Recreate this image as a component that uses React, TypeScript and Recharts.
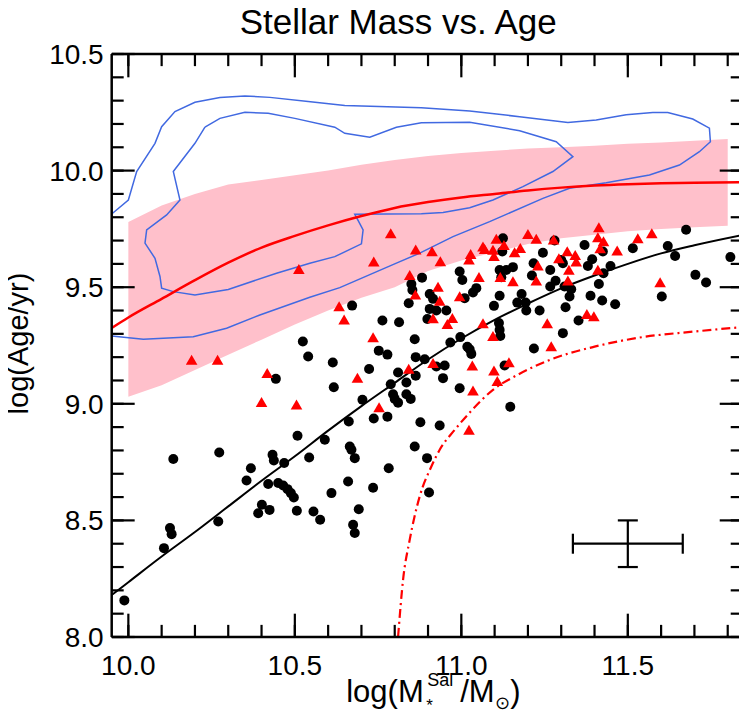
import React from 'react';
import { ComposedChart, XAxis, YAxis, Scatter, Line, Area, ErrorBar, ReferenceLine } from 'recharts';

const FONT = '"Liberation Sans", Arial, Helvetica, sans-serif';

const xDomain = [9.95, 11.845];
const yDomain = [8.0, 10.5];

const xMajorTicks = [10.0, 10.5, 11.0, 11.5];
const xMinorTicks = [10.0, 10.1, 10.2, 10.3, 10.4, 10.5, 10.6, 10.7, 10.8, 10.9, 11.0, 11.1, 11.2, 11.3, 11.4, 11.5, 11.6, 11.7, 11.8];
const yMajorTicks = [8.0, 8.5, 9.0, 9.5, 10.0, 10.5];
const yMinorTicks = [8.0, 8.1, 8.2, 8.3, 8.4, 8.5, 8.6, 8.7, 8.8, 8.9, 9.0, 9.1, 9.2, 9.3, 9.4, 9.5, 9.6, 9.7, 9.8, 9.9, 10.0, 10.1, 10.2, 10.3, 10.4, 10.5];

// galaxies (black dots)
const blackDots = [
  [9.988, 8.157], [10.107, 8.381], [10.125, 8.467], [10.130, 8.441], [10.135, 8.763], [10.273, 8.791], [10.270, 8.495],
  [10.368, 8.724], [10.355, 8.671], [10.420, 8.656], [10.433, 8.781], [10.437, 8.757], [10.468, 8.746], [10.508, 8.863],
  [10.443, 9.107], [10.524, 9.267], [10.540, 9.203], [10.614, 9.177], [10.617, 9.071], [10.590, 8.846], [10.543, 8.770],
  [10.450, 8.660], [10.465, 8.650], [10.478, 8.634], [10.488, 8.617], [10.497, 8.598], [10.401, 8.567], [10.390, 8.531],
  [10.424, 8.545], [10.506, 8.541], [10.556, 8.538], [10.576, 8.503], [10.610, 8.617], [10.660, 8.667], [10.665, 8.817],
  [10.670, 8.803], [10.680, 8.767], [10.662, 8.924], [10.675, 8.481], [10.680, 8.446],
  [10.735, 8.640], [10.782, 8.724], [10.897, 8.767], [10.903, 8.620], [10.692, 8.548],
  [10.672, 9.421], [10.763, 9.357], [10.813, 9.350], [10.842, 9.431], [10.850, 9.514], [10.853, 9.488], [10.882, 9.541],
  [10.860, 9.277], [10.752, 9.228], [10.778, 9.211], [10.723, 9.149], [10.810, 9.134], [10.863, 9.200], [10.863, 9.120],
  [10.890, 9.191], [10.788, 9.084], [10.835, 9.091], [10.795, 9.041], [10.800, 9.021], [10.810, 9.005], [10.835, 9.041],
  [10.848, 9.021], [10.703, 9.017], [10.737, 8.937], [10.778, 8.945], [10.877, 8.921], [10.935, 8.907], [10.860, 8.817],
  [10.925, 9.160], [10.950, 9.164], [10.945, 9.110], [10.995, 9.067], [11.147, 8.987], [11.130, 9.164], [11.218, 9.237],
  [10.967, 9.263], [10.997, 9.286], [11.018, 9.245], [11.025, 9.234], [11.030, 9.214], [11.113, 9.346], [11.115, 9.317],
  [11.117, 9.291], [11.098, 9.420], [11.115, 9.463], [11.181, 9.471], [11.168, 9.434], [11.193, 9.434], [11.195, 9.400],
  [10.905, 9.471], [10.915, 9.450], [10.905, 9.407], [10.925, 9.400], [10.955, 9.400], [10.898, 9.364], [11.010, 9.453],
  [11.035, 9.477], [11.045, 9.496], [10.995, 9.567], [11.003, 9.531], [11.125, 9.710], [11.123, 9.653], [11.115, 9.574],
  [11.135, 9.574], [11.155, 9.586], [11.120, 9.543], [11.217, 9.603], [11.212, 9.550],
  [11.675, 9.746], [11.620, 9.677], [11.642, 9.634], [11.808, 9.629], [11.703, 9.553], [11.735, 9.520], [11.602, 9.460],
  [11.515, 9.667], [11.370, 9.681], [11.280, 9.700], [11.245, 9.648], [11.267, 9.574], [11.283, 9.528], [11.267, 9.503],
  [11.305, 9.603], [11.300, 9.617], [11.393, 9.620], [11.380, 9.591], [11.425, 9.653], [11.448, 9.591], [11.427, 9.560],
  [11.413, 9.514], [11.330, 9.491], [11.310, 9.503], [11.325, 9.460], [11.388, 9.463], [11.423, 9.443], [11.462, 9.427],
  [11.235, 9.400], [11.313, 9.414], [11.352, 9.357], [11.305, 9.303],
];

// red triangles
const redTriangles = [
  [10.190, 9.185], [10.268, 9.185], [10.417, 9.128], [10.400, 9.003], [10.505, 8.993], [10.688, 9.107], [10.512, 9.574],
  [10.788, 9.727], [10.737, 9.606], [10.863, 9.657], [10.912, 9.650], [10.937, 9.607], [10.845, 9.548], [10.930, 9.498],
  [10.862, 9.464], [10.935, 9.438], [10.915, 9.363], [10.958, 9.338], [10.973, 9.364], [10.995, 9.457], [11.053, 9.539],
  [11.028, 9.638], [11.023, 9.614], [11.065, 9.670], [11.070, 9.660], [11.095, 9.656], [11.098, 9.629], [11.105, 9.703],
  [11.128, 9.677], [11.160, 9.646], [11.177, 9.664], [11.200, 9.724], [11.225, 9.703], [11.117, 9.539], [11.155, 9.521],
  [11.225, 9.524], [10.633, 9.414], [10.648, 9.357], [10.735, 9.281], [11.065, 9.341], [11.095, 9.286], [10.842, 9.146],
  [10.915, 9.171], [11.033, 9.160], [11.098, 9.138], [11.108, 9.093], [11.143, 9.174], [11.035, 9.053], [10.753, 8.981],
  [11.023, 8.884],
  [11.277, 9.700], [11.413, 9.753], [11.410, 9.710], [11.427, 9.693], [11.417, 9.663], [11.530, 9.706], [11.572, 9.727],
  [11.468, 9.653], [11.318, 9.650], [11.342, 9.634], [11.345, 9.606], [11.293, 9.620], [11.230, 9.589], [11.323, 9.571],
  [11.410, 9.571], [11.320, 9.524], [11.597, 9.517], [11.258, 9.341], [11.377, 9.381], [11.398, 9.371], [11.270, 9.243],
];

// model curves
const modelX = [9.95, 10.0, 10.1, 10.2, 10.3, 10.4, 10.5, 10.6, 10.7, 10.8, 10.9, 11.0, 11.1, 11.2, 11.3, 11.4, 11.5, 11.6, 11.7, 11.845];
const redModel = [9.325, 9.37, 9.45, 9.53, 9.605, 9.67, 9.72, 9.765, 9.805, 9.84, 9.865, 9.885, 9.9, 9.915, 9.927, 9.936, 9.942, 9.946, 9.948, 9.95];
const blackModel = [8.18, 8.235, 8.345, 8.45, 8.56, 8.67, 8.775, 8.885, 8.99, 9.09, 9.19, 9.28, 9.36, 9.43, 9.495, 9.55, 9.6, 9.645, 9.68, 9.724];

const dashX = [10.81, 10.825, 10.845, 10.875, 10.91, 10.935, 10.98, 11.03, 11.095, 11.17, 11.265, 11.4, 11.535, 11.7, 11.845];
const dashY = [8.0, 8.245, 8.417, 8.603, 8.731, 8.803, 8.888, 8.97, 9.06, 9.125, 9.188, 9.245, 9.284, 9.31, 9.329];

// pink band
const bandX = [10.0, 10.1, 10.2, 10.3, 10.4, 10.5, 10.6, 10.7, 10.8, 10.9, 11.0, 11.1, 11.2, 11.3, 11.4, 11.5, 11.6, 11.7, 11.8];
const bandLow = [9.03, 9.08, 9.145, 9.21, 9.275, 9.34, 9.4, 9.455, 9.5, 9.57, 9.615, 9.65, 9.685, 9.71, 9.725, 9.74, 9.75, 9.757, 9.763];
const bandHigh = [9.78, 9.85, 9.9, 9.94, 9.96, 9.98, 10.0, 10.025, 10.045, 10.063, 10.075, 10.085, 10.095, 10.1, 10.107, 10.115, 10.12, 10.128, 10.135];

// blue contours
const outerContour = [
  [9.95, 9.814], [10.0, 9.874], [10.025, 9.996], [10.08, 10.117], [10.1, 10.188], [10.14, 10.253], [10.2, 10.293],
  [10.275, 10.313], [10.35, 10.32], [10.425, 10.314], [10.54, 10.296], [10.65, 10.279], [10.88, 10.27], [11.025, 10.256],
  [11.175, 10.231], [11.32, 10.206], [11.405, 10.217], [11.495, 10.239], [11.575, 10.249], [11.62, 10.249], [11.695, 10.221],
  [11.745, 10.182], [11.748, 10.124], [11.715, 10.081], [11.655, 10.024], [11.565, 9.981], [11.435, 9.948], [11.325, 9.924],
  [11.245, 9.881], [11.085, 9.781], [10.975, 9.717], [10.875, 9.646], [10.805, 9.603], [10.635, 9.498], [10.545, 9.457],
  [10.395, 9.381], [10.295, 9.324], [10.195, 9.288], [10.045, 9.277], [9.95, 9.291],
];
const innerContour = [
  [10.23, 10.186], [10.275, 10.224], [10.35, 10.25], [10.42, 10.246], [10.5, 10.224], [10.62, 10.186], [10.65, 10.16],
  [10.725, 10.143], [10.805, 10.186], [10.88, 10.205], [11.025, 10.207], [11.175, 10.171], [11.285, 10.124], [11.335, 10.06],
  [11.275, 9.996], [11.185, 9.931], [11.095, 9.874], [11.025, 9.841], [10.945, 9.82], [10.88, 9.815], [10.68, 9.813],
  [10.705, 9.746], [10.7, 9.686], [10.62, 9.631], [10.545, 9.603], [10.445, 9.56], [10.3, 9.49], [10.2, 9.467],
  [10.135, 9.481], [10.1, 9.496], [10.095, 9.546], [10.08, 9.624], [10.05, 9.689], [10.055, 9.746], [10.115, 9.81],
  [10.155, 9.874], [10.135, 9.996], [10.2, 10.117], [10.23, 10.186],
];

// typical uncertainty
const errX = [11.5];
const errY = [8.4];
const errDx = [0.165];
const errDy = [0.1];

// inward tick lengths, in axis units (about 23px / 12px)
const MAJ_Y = 0.1;
const MIN_Y = 0.052;
const MAJ_X = 0.069;
const MIN_X = 0.036;

const toPoints = (pts: number[][]) => pts.map(([x, y]) => ({ x, y }));

const Dot = (props: any) => <circle cx={props.cx} cy={props.cy} r={5} fill="#000" />;
const Tri = (props: any) => {
  const { cx, cy } = props;
  return <polygon points={`${cx},${cy - 6} ${cx - 5.8},${cy + 4} ${cx + 5.8},${cy + 4}`} fill="#FF0000" />;
};
const NoShape = () => <g />;

const tickStyle = { fill: '#000', fontSize: 28, fontFamily: FONT };
const axisLineStyle = { stroke: '#000', strokeWidth: 2.5 };

const TitleLabel = (props: any) => {
  const vb = props.viewBox;
  return (
    <text x={vb.x + vb.width / 2 - 29} y={vb.y - 20} textAnchor="middle" fontSize={35} fontFamily={FONT} fill="#000">
      Stellar Mass vs. Age
    </text>
  );
};

const YLabel = (props: any) => {
  const vb = props.viewBox;
  const cx = vb.x + 18;
  const cy = vb.y + vb.height / 2 - 2;
  return (
    <text x={cx} y={cy} transform={`rotate(-90 ${cx} ${cy})`} textAnchor="middle" dominantBaseline="central"
      fontSize={29} fontFamily={FONT} fill="#000">
      log(Age/yr)
    </text>
  );
};

const XLabel = (props: any) => {
  const vb = props.viewBox;
  const s = vb.x + vb.width / 2 - 81;
  const base = vb.y + 65;
  return (
    <text fontFamily={FONT} fill="#000" fontSize={31}>
      <tspan x={s} y={base}>log(M</tspan>
      <tspan x={s + 80} y={base + 9} fontSize={17}>*</tspan>
      <tspan x={s + 81} y={base - 16} fontSize={18}>Sal</tspan>
      <tspan x={s + 114} y={base}>/M</tspan>
      <tspan x={s + 149} y={base + 7} fontSize={18}>⊙</tspan>
      <tspan x={s + 164} y={base}>)</tspan>
    </text>
  );
};

const seg = (key: string, x1: number, y1: number, x2: number, y2: number) => (
  <ReferenceLine key={key} segment={[{ x: x1, y: y1 }, { x: x2, y: y2 }]} stroke="#000" strokeWidth={2.2} />
);

export default function App() {
  const dots = toPoints(blackDots);
  const tris = toPoints(redTriangles);
  const redCurve = modelX.map((x, i) => ({ x, y: redModel[i] }));
  const blackCurve = modelX.map((x, i) => ({ x, y: blackModel[i] }));
  const dashCurve = dashX.map((x, i) => ({ x, y: dashY[i] }));
  const band = bandX.map((x, i) => ({ x, band: [bandLow[i], bandHigh[i]] }));
  const errData = errX.map((x, i) => ({ x, y: errY[i], ex: errDx[i], ey: errDy[i] }));

  const [x0, x1] = xDomain;
  const [y0, y1] = yDomain;
  const frameTicks = [
    ...xMinorTicks.map((x) => seg(`bm${x}`, x, y0, x, y0 + MIN_Y)),
    ...xMinorTicks.map((x) => seg(`tm${x}`, x, y1, x, y1 - MIN_Y)),
    ...xMajorTicks.map((x) => seg(`bM${x}`, x, y0, x, y0 + MAJ_Y)),
    ...xMajorTicks.map((x) => seg(`tM${x}`, x, y1, x, y1 - MAJ_Y)),
    ...yMinorTicks.map((y) => seg(`lm${y}`, x0, y, x0 + MIN_X, y)),
    ...yMinorTicks.map((y) => seg(`rm${y}`, x1, y, x1 - MIN_X, y)),
    ...yMajorTicks.map((y) => seg(`lM${y}`, x0, y, x0 + MAJ_X, y)),
    ...yMajorTicks.map((y) => seg(`rM${y}`, x1, y, x1 - MAJ_X, y)),
  ];

  return (
    <div style={{ margin: -8 }}>
      <ComposedChart width={747} height={718} margin={{ top: 54, right: 4.3, bottom: 21, left: 0 }}>
        <XAxis type="number" dataKey="x" domain={xDomain} allowDataOverflow ticks={xMajorTicks} interval={0}
          tickFormatter={(v: number) => v.toFixed(1)} tick={tickStyle} tickLine={false} tickSize={0} tickMargin={18}
          axisLine={axisLineStyle} height={60} label={XLabel} />
        <YAxis type="number" dataKey="y" domain={yDomain} allowDataOverflow ticks={yMajorTicks} interval={0}
          tickFormatter={(v: number) => v.toFixed(1)} tick={tickStyle} tickLine={false} tickSize={0} tickMargin={8}
          axisLine={axisLineStyle} width={111.7} label={YLabel} />

        <Area data={band} dataKey="band" type="linear" fill="#FFC0CB" fillOpacity={1} stroke="none" isAnimationActive={false} />
        <Line data={toPoints(outerContour)} dataKey="y" type="linear" stroke="#4169E1" strokeWidth={1.5} dot={false} isAnimationActive={false} />
        <Line data={toPoints(innerContour)} dataKey="y" type="linear" stroke="#4169E1" strokeWidth={1.5} dot={false} isAnimationActive={false} />
        <Line data={redCurve} dataKey="y" type="monotone" stroke="#FF0000" strokeWidth={2.5} dot={false} isAnimationActive={false} />
        <Line data={dashCurve} dataKey="y" type="monotone" stroke="#FF0000" strokeWidth={2.2} strokeDasharray="9 4 2 4" dot={false} isAnimationActive={false} />
        <Line data={blackCurve} dataKey="y" type="monotone" stroke="#000" strokeWidth={2} dot={false} isAnimationActive={false} />
        <Scatter data={dots} dataKey="y" shape={Dot} isAnimationActive={false} />
        <Scatter data={tris} dataKey="y" shape={Tri} isAnimationActive={false} />
        <Scatter data={errData} dataKey="y" shape={NoShape} isAnimationActive={false}>
          <ErrorBar dataKey="ex" direction="x" width={10} stroke="#000" strokeWidth={2.2} />
          <ErrorBar dataKey="ey" direction="y" width={10} stroke="#000" strokeWidth={2.2} />
        </Scatter>

        {/* frame: top and right edges, inward ticks on all sides */}
        <ReferenceLine y={y1} stroke="#000" strokeWidth={2.5} label={TitleLabel} />
        <ReferenceLine x={x1} stroke="#000" strokeWidth={2.5} />
        {frameTicks}
      </ComposedChart>
    </div>
  );
}
